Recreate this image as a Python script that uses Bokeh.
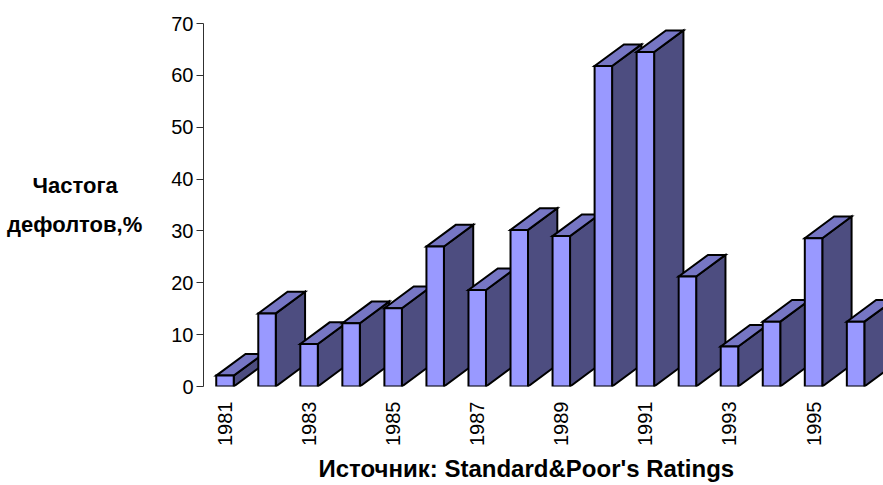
from bokeh.plotting import figure
from bokeh.models import ColumnDataSource, FixedTicker, Range1d, Title
from bokeh.embed import file_html
from bokeh.resources import INLINE

years = [1981, 1982, 1983, 1984, 1985, 1986, 1987, 1988,
         1989, 1990, 1991, 1992, 1993, 1994, 1995, 1996]
default_rates = [2.1, 14.1, 8.2, 12.2, 15.1, 27.0, 18.6, 30.2,
                 29.0, 61.8, 64.5, 21.2, 7.7, 12.5, 28.6, 12.5]
y_ticks = [0, 10, 20, 30, 40, 50, 60, 70]
x_tick_years = [1981, 1983, 1985, 1987, 1989, 1991, 1993, 1995]
y_title_lines = ["Частога", "дефолтов,%"]
source_text = "Источник: Standard&Poor's Ratings"

FRONT = "#9999FF"
TOP = "#7676C4"
SIDE = "#4D4D80"

W, H = 883, 485
BL, BR, BT = 203, 0, 23
PX_PER_CAT = 42.04
X_START = -0.511
FH = 364  # expected frame height in px
fw = W - BL - BR
x_end = X_START + fw / PX_PER_CAT
Y_MAX = 70.0
px_per_unit = FH / Y_MAX

half_w = 0.208          # half of front face width (categories)
dx = 29.3 / PX_PER_CAT  # depth in x (categories)
dy = 21.7 / px_per_unit # depth in y (value units)

xs, ys, colors = [], [], []
for i, v in enumerate(default_rates):
    l, r = i - half_w, i + half_w
    xs.append([r, r + dx, r + dx, r]); ys.append([0, dy, v + dy, v]); colors.append(SIDE)
    xs.append([l, r, r + dx, l + dx]); ys.append([v, v, v + dy, v + dy]); colors.append(TOP)
    xs.append([l, r, r, l]); ys.append([0, 0, v, v]); colors.append(FRONT)

src = ColumnDataSource(dict(xs=xs, ys=ys, color=colors))

p = figure(width=W, height=H, output_backend="svg", toolbar_location=None,
           x_range=Range1d(X_START, x_end), y_range=Range1d(0, Y_MAX),
           min_border_left=BL, min_border_right=BR, min_border_top=BT,
           min_border_bottom=0)
p.patches("xs", "ys", source=src, fill_color="color", line_color="black",
          line_width=2, line_join="miter")

p.grid.visible = False
p.outline_line_color = None
p.background_fill_color = "white"
p.border_fill_color = "white"

# y axis
ya = p.yaxis[0]
ya.ticker = FixedTicker(ticks=y_ticks)
ya.axis_line_color = "#303030"
ya.axis_line_width = 1
ya.major_tick_out = 7
ya.major_tick_in = 0
ya.major_tick_line_color = "#303030"
ya.minor_tick_line_color = None
ya.major_label_standoff = 3
ya.major_label_text_font = "Liberation Sans"
ya.major_label_text_font_size = "20px"
ya.major_label_text_color = "black"
# first line padded with no-break spaces so both lines appear centred
ya.axis_label = y_title_lines[0] + "\u00a0" * 4 + "\n" + y_title_lines[1]
ya.axis_label_orientation = "horizontal"
ya.axis_label_standoff = 26
ya.axis_label_text_font = "Liberation Sans"
ya.axis_label_text_font_style = "bold"
ya.axis_label_text_font_size = "22px"
ya.axis_label_text_line_height = 1.55
ya.axis_label_text_color = "black"

# x axis
xa = p.xaxis[0]
tick_pos = [years.index(y) for y in x_tick_years]
xa.ticker = FixedTicker(ticks=tick_pos)
xa.major_label_overrides = {t: str(y) for t, y in zip(tick_pos, x_tick_years)}
xa.axis_line_color = None
xa.major_tick_line_color = None
xa.minor_tick_line_color = None
xa.major_tick_out = 0
xa.major_tick_in = 0
xa.major_label_orientation = 3.14159265 / 2
xa.major_label_standoff = 15
xa.major_label_text_font = "Liberation Sans"
xa.major_label_text_font_size = "20px"
xa.major_label_text_color = "black"

title = Title(text=source_text, align="left", offset=115, standoff=8,
              text_font="Liberation Sans", text_font_style="bold",
              text_font_size="24px", text_color="black")
p.add_layout(title, "below")

open("out.html", "w").write(file_html(p, INLINE))
